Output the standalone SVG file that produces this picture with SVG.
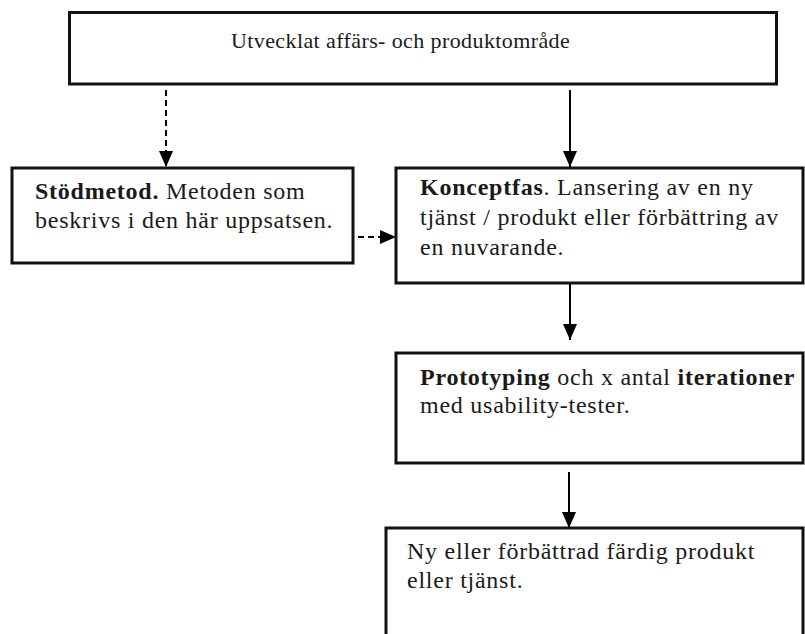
<svg xmlns="http://www.w3.org/2000/svg" width="805" height="634" viewBox="0 0 805 634">
  <defs>
    <marker id="arrow" markerUnits="userSpaceOnUse" markerWidth="16" markerHeight="16" viewBox="0 0 16 14" refX="16" refY="7" orient="auto">
      <path d="M0,0 L16,7 L0,14 Z" fill="#000"/>
    </marker>
  </defs>
  <style>
    .box { fill: #fff; stroke: #111; stroke-width: 3; }
    .txt { font-family: "Liberation Serif", "Times New Roman", serif; font-size: 24px; letter-spacing: 0.75px; fill: #1a1a1a; }
    .head { font-size: 22px; letter-spacing: 0.4px; }
    .b { font-weight: bold; }
    .link { stroke: #000; stroke-width: 2; fill: none; marker-end: url(#arrow); }
    .dash { stroke-dasharray: 6 4; }
  </style>
  <rect width="805" height="634" fill="#fff"/>

  <g id="connectors">
    <line class="link dash" x1="166" y1="90" x2="166" y2="167"/>
    <line class="link" x1="570" y1="90" x2="570" y2="167"/>
    <line class="link dash" x1="338" y1="237" x2="396" y2="237"/>
    <line class="link" x1="570" y1="284" x2="570" y2="340"/>
    <line class="link" x1="569" y1="472" x2="569" y2="528"/>
  </g>

  <g id="utvecklat">
    <rect class="box" x="69.5" y="12.5" width="707" height="71.5"/>
    <text class="txt head" x="231" y="48">Utvecklat affärs- och produktområde</text>
  </g>

  <g id="stodmetod">
    <rect class="box" x="12" y="168" width="341" height="95"/>
    <text class="txt" x="35" y="199"><tspan class="b">Stödmetod.</tspan> Metoden som</text>
    <text class="txt" x="35" y="228">beskrivs i den här uppsatsen.</text>
  </g>

  <g id="konceptfas">
    <rect class="box" x="396" y="168" width="407" height="115"/>
    <text class="txt" x="420" y="195"><tspan class="b">Konceptfas</tspan>. Lansering av en ny</text>
    <text class="txt" x="420" y="225">tjänst / produkt eller förbättring av</text>
    <text class="txt" x="420" y="255">en nuvarande.</text>
  </g>

  <g id="prototyping">
    <rect class="box" x="396" y="353" width="407" height="110"/>
    <text class="txt" x="420" y="385"><tspan class="b">Prototyping</tspan> och x antal <tspan class="b">iterationer</tspan></text>
    <text class="txt" x="420" y="413">med usability-tester.</text>
  </g>

  <g id="produkt">
    <rect class="box" x="386" y="528" width="417" height="120"/>
    <text class="txt" x="407" y="559">Ny eller förbättrad färdig produkt</text>
    <text class="txt" x="407" y="588">eller tjänst.</text>
  </g>
</svg>
